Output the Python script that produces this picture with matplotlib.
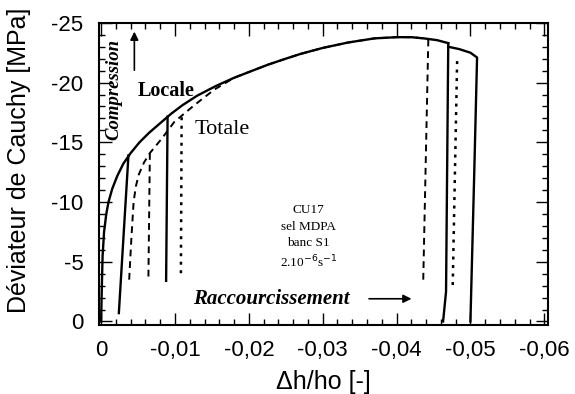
import matplotlib
matplotlib.use("Agg")
import matplotlib.pyplot as plt
from matplotlib.ticker import MultipleLocator, FuncFormatter

# courbe "Locale" (trait plein) : enveloppe de chargement
loc_x = [0, -0.0001, -0.0002, -0.0004, -0.0007, -0.0010, -0.0015, -0.0022, -0.0030,
         -0.0040, -0.0052, -0.0065, -0.0080, -0.0095, -0.0110, -0.0130, -0.0155,
         -0.0180, -0.0205, -0.0226, -0.0250, -0.0270, -0.0300, -0.0334, -0.0370,
         -0.0400, -0.0420, -0.0437, -0.0455, -0.0470]
loc_y = [0, -3, -5.5, -7.5, -9.0, -10.0, -11.1, -12.2, -13.2,
         -14.1, -15.0, -15.8, -16.6, -17.4, -18.1, -18.9, -19.7,
         -20.4, -21.0, -21.5, -22.0, -22.4, -22.9, -23.35, -23.7,
         -23.8, -23.8, -23.7, -23.55, -23.3]
# decharges locales
loc_unl1_x = [-0.0037, -0.0024]
loc_unl1_y = [-13.9, -0.7]
loc_unl2_x = [-0.0090, -0.0088]
loc_unl2_y = [-17.15, -3.4]
loc_unl3_x = [-0.0470, -0.0467, -0.0463]
loc_unl3_y = [-23.3, -2.5, 0]
# fin de l'essai
loc_end_x = [-0.0470, -0.0485, -0.0500, -0.0509, -0.0505, -0.0500]
loc_end_y = [-23.0, -22.8, -22.5, -22.1, -12.0, 0]

# courbe "Totale" (tirets)
tot_x = [-0.0038, -0.0041, -0.0044, -0.0047, -0.0051, -0.0058, -0.0066, -0.0082, -0.0099,
         -0.0126, -0.0153, -0.0180, -0.0205, -0.0226, -0.0250, -0.0270, -0.0300,
         -0.0334, -0.0370, -0.0400, -0.0420, -0.0437, -0.0443]
tot_y = [-3.5, -7.0, -10.0, -11.3, -12.3, -13.3, -14.1, -15.3, -16.7,
         -18.1, -19.4, -20.4, -21.0, -21.5, -22.0, -22.4, -22.9,
         -23.35, -23.7, -23.8, -23.8, -23.7, -23.6]
tot_unl2_x = [-0.0066, -0.0064]
tot_unl2_y = [-14.1, -3.5]
tot_unl3_x = [-0.0109, -0.0108]
tot_unl3_y = [-17.1, -3.7]
tot_unl4_x = [-0.0443, -0.0436]
tot_unl4_y = [-23.6, -3.1]
tot_unl5_x = [-0.0482, -0.0476]
tot_unl5_y = [-21.8, -2.9]

x_ticks = [0, -0.01, -0.02, -0.03, -0.04, -0.05, -0.06]
y_ticks = [0, -5, -10, -15, -20, -25]

sans = "Liberation Sans"
serif = "Liberation Serif"

fig = plt.figure(figsize=(5.75, 3.94), dpi=100)
ax = fig.add_axes([0.172, 0.175, 0.781, 0.767])

dash = (0, (3.5, 2.5))
dot = (0, (1.2, 2.2))
ax.plot(tot_x, tot_y, color="black", lw=1.4, linestyle=dash)
ax.plot(tot_unl2_x, tot_unl2_y, color="black", lw=1.4, linestyle=dash)
ax.plot(tot_unl3_x, tot_unl3_y, color="black", lw=1.8, linestyle=dot)
ax.plot(tot_unl4_x, tot_unl4_y, color="black", lw=1.4, linestyle=dash)
ax.plot(tot_unl5_x, tot_unl5_y, color="black", lw=1.8, linestyle=dot)

for xs, ys in [(loc_x, loc_y), (loc_unl1_x, loc_unl1_y), (loc_unl2_x, loc_unl2_y),
               (loc_unl3_x, loc_unl3_y), (loc_end_x, loc_end_y)]:
    ax.plot(xs, ys, color="black", lw=1.7)

ax.set_xlim(0.0003, -0.0605)
ax.set_ylim(0.3, -25)
ax.set_xticks(x_ticks)
ax.set_yticks(y_ticks)
ax.xaxis.set_minor_locator(MultipleLocator(0.002))
ax.yaxis.set_minor_locator(MultipleLocator(1))
ax.xaxis.set_major_formatter(FuncFormatter(lambda v, p: "0" if abs(v) < 1e-9 else ("%.2f" % v).replace(".", ",")))
ax.yaxis.set_major_formatter(FuncFormatter(lambda v, p: "%d" % round(v)))
ax.tick_params(which="both", direction="in", top=True, right=True, width=1)
ax.tick_params(which="major", length=9, labelsize=16, pad=11)
ax.tick_params(which="minor", length=4.5)
for lab in ax.get_xticklabels() + ax.get_yticklabels():
    lab.set_family(sans)
for s in ax.spines.values():
    s.set_linewidth(1.5)

ax.set_xlabel("\u0394h/ho [-]", fontsize=18, family=sans, labelpad=6)
ax.set_ylabel("D\u00e9viateur de Cauchy [MPa]", fontsize=18, family=sans)
ax.yaxis.set_label_coords(-0.152, 0.545)

# annotations
ax.text(-0.00176, -19.4, "Compression", rotation=90, ha="center", va="center",
        fontsize=13.5, family=serif, fontweight="bold", fontstyle="italic")
ax.annotate("", xy=(-0.0045, -24.5), xytext=(-0.0045, -20.8),
            arrowprops=dict(arrowstyle="-|>", color="black", lw=1.2, mutation_scale=12))
ax.text(-0.0050, -19.3, "Locale", ha="left", va="center", fontsize=14.5,
        family=serif, fontweight="bold")
ax.text(-0.0126, -16.1, "Totale", ha="left", va="center", fontsize=16, family=serif)
ax.text(-0.0281, -9.35, "CU17", ha="center", va="center", fontsize=9.5, family=serif)
ax.text(-0.0281, -7.95, "sel MDPA", ha="center", va="center", fontsize=9.5, family=serif)
ax.text(-0.0281, -6.6, "banc S1", ha="center", va="center", fontsize=9.5, family=serif)
ax.text(-0.0281, -4.95, "2.10$^{-6}$s$^{-1}$", ha="center", va="center",
        fontsize=9.5, family=serif)
ax.text(-0.0124, -1.9, "Raccourcissement", ha="left", va="center", fontsize=15,
        family=serif, fontweight="bold", fontstyle="italic")
ax.annotate("", xy=(-0.0424, -1.9), xytext=(-0.0359, -1.9),
            arrowprops=dict(arrowstyle="-|>", color="black", lw=1.2, mutation_scale=12))

fig.savefig("out.png", dpi=100)
